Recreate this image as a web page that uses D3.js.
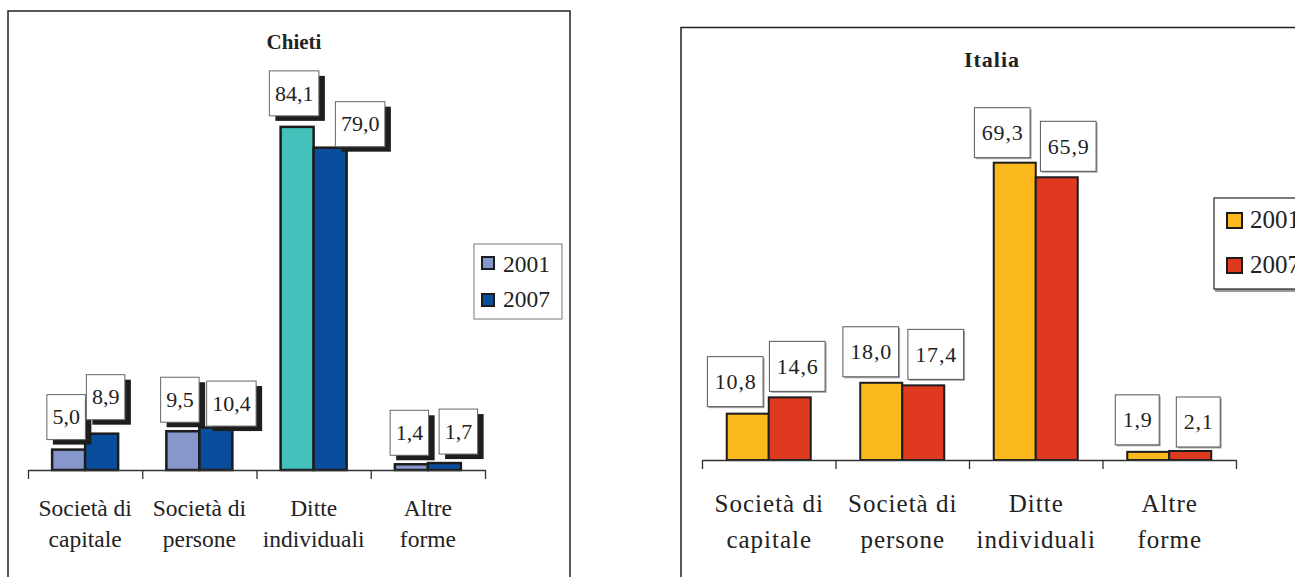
<!DOCTYPE html>
<html>
<head>
<meta charset="utf-8">
<script src="https://cdn.jsdelivr.net/npm/d3@7"></script>
<style>
  html, body { margin: 0; padding: 0; background: #fff; }
  svg { display: block; }
</style>
</head>
<body>
<svg id="chart" width="1295" height="577"></svg>
<script>
// Legal form of registered firms, % share, 2001 vs 2007
const categories = [
  ["Società di", "capitale"],
  ["Società di", "persone"],
  ["Ditte", "individuali"],
  ["Altre", "forme"]
];
const seriesNames = ["2001", "2007"];

const chieti2001 = [5.0, 9.5, 84.1, 1.4];
const chieti2007 = [8.9, 10.4, 79.0, 1.7];

const italia2001 = [10.8, 18.0, 69.3, 1.9];
const italia2007 = [14.6, 17.4, 65.9, 2.1];

// Hand-placed offsets of the value callouts: [dx from bar centre, gap above bar top]
const chietiNudge = [
  [[-2.5, 10], [4, 14]],
  [[-3, 9], [15.5, 1.5]],
  [[-3, 11], [30, 1]],
  [[-2, 9], [14, 9]]
];
const italiaNudge = [
  [[-12.5, 7], [7.5, 6]],
  [[-10.5, 6], [12.5, 6]],
  [[-12.5, 5], [11.5, 6]],
  [[-11, 7], [8, 4]]
];

const SERIF = "'Liberation Serif', 'Times New Roman', Times, 'DejaVu Serif', serif";
const fmt = v => d3.format(".1f")(v).replace(".", ",");
const svg = d3.select("#chart").style("font-family", SERIF);
svg.append("rect").attr("width", 1295).attr("height", 577).attr("fill", "#fff");

function txt(sel) {
  return sel.append("text").attr("font-family", SERIF).style("font-family", SERIF).attr("fill", "#222");
}

function drawPanel(p) {
  const g = svg.append("g");

  // frame (open at the bottom)
  g.append("path")
    .attr("d", `M${p.frame.x0},577V${p.frame.y0}H${p.frame.x1}V577`)
    .attr("fill", "none").attr("stroke", "#222").attr("stroke-width", 1.5);

  txt(g)
    .attr("x", p.title.x).attr("y", p.title.y)
    .attr("text-anchor", "middle")
    .style("font-weight", "bold")
    .style("font-size", p.title.size + "px")
    .style("letter-spacing", p.title.ls + "px")
    .text(p.title.text);

  const x0 = d3.scaleBand().domain(d3.range(categories.length)).range(p.xRange).padding(0);
  const gw = p.barW * seriesNames.length;
  const x1 = d3.scaleBand().domain(seriesNames)
    .range([(x0.bandwidth() - gw) / 2, (x0.bandwidth() + gw) / 2]);
  const y = d3.scaleLinear().domain(p.yDomain).range([p.baseY, p.topY]);

  const rows = [];
  categories.forEach((c, i) => {
    seriesNames.forEach((s, j) => {
      rows.push({ i, j, s, v: p.values[j][i], nudge: p.nudge[i][j] });
    });
  });

  // bars
  g.selectAll("rect.bar").data(rows).join("rect")
    .attr("class", "bar")
    .attr("x", d => x0(d.i) + x1(d.s))
    .attr("y", d => y(d.v))
    .attr("width", x1.bandwidth())
    .attr("height", d => y(0) - y(d.v))
    .attr("fill", d => p.color(d))
    .attr("stroke", "#1c1c1c")
    .attr("stroke-width", p.barStroke);

  // category axis: baseline with dividers at the band edges
  const edge = d3.scaleLinear().domain([0, categories.length]).range(p.xRange);
  const axis = g.append("g")
    .attr("transform", `translate(0,${p.baseY})`)
    .call(d3.axisBottom(edge).ticks(categories.length).tickSizeInner(9).tickSizeOuter(0).tickFormat(""));
  axis.select(".domain").attr("stroke", "#333").attr("stroke-width", 1.3);
  axis.selectAll(".tick line").attr("stroke", "#333").attr("stroke-width", 1.3);

  // category labels
  categories.forEach((lines, i) => {
    const cx = x0(i) + x0.bandwidth() / 2;
    lines.forEach((ln, k) => {
      txt(g)
        .attr("x", cx + p.cat.ls / 2).attr("y", p.cat.y[k])
        .attr("text-anchor", "middle")
        .style("font-size", p.cat.size + "px")
        .style("letter-spacing", p.cat.ls + "px")
        .text(ln);
    });
  });

  // value callouts
  rows.forEach(d => {
    const cx = x0(d.i) + x1(d.s) + x1.bandwidth() / 2 + d.nudge[0];
    const bottom = y(d.v) - d.nudge[1];
    const t = txt(g)
      .style("font-size", p.lab.size + "px")
      .style("letter-spacing", p.lab.ls + "px")
      .attr("text-anchor", "middle")
      .text(fmt(d.v));
    const tw = t.node().getComputedTextLength();
    const w = tw + 2 * p.lab.pad, h = p.lab.h;
    const bx = cx - w / 2, by = bottom - h;
    g.insert("rect", () => t.node())
      .attr("x", bx + p.lab.shadow[0]).attr("y", by + p.lab.shadow[1])
      .attr("width", w).attr("height", h)
      .attr("fill", p.lab.shadowColor);
    g.insert("rect", () => t.node())
      .attr("x", bx).attr("y", by).attr("width", w).attr("height", h)
      .attr("fill", "#fff").attr("stroke", p.lab.border).attr("stroke-width", 1);
    t.attr("x", cx + p.lab.ls / 2).attr("y", by + h / 2 + p.lab.size * 0.33);
  });

  // legend
  const L = p.legend;
  if (L.shadow) {
    g.append("rect").attr("x", L.x + 1).attr("y", L.y + L.h).attr("width", L.w).attr("height", 3).attr("fill", "#9a9a9a");
  }
  g.append("rect").attr("x", L.x).attr("y", L.y).attr("width", L.w).attr("height", L.h)
    .attr("fill", "#fff").attr("stroke", L.stroke).attr("stroke-width", L.sw);
  seriesNames.forEach((s, j) => {
    g.append("rect")
      .attr("x", L.sx).attr("y", L.sy[j]).attr("width", L.ss).attr("height", L.ss)
      .attr("fill", p.legendColor[j]).attr("stroke", "#1c1c1c").attr("stroke-width", 2);
    txt(g)
      .attr("x", L.tx).attr("y", L.ty[j])
      .style("font-size", L.size + "px")
      .text(s);
  });
}

drawPanel({
  frame: { x0: 8, y0: 11, x1: 570 },
  title: { text: "Chieti", x: 294, y: 49, size: 21, ls: 0 },
  xRange: [28, 485],
  barW: 33,
  baseY: 470,
  topY: 470 - 90 * 4.08,
  yDomain: [0, 90],
  values: [chieti2001, chieti2007],
  nudge: chietiNudge,
  color: d => d.j === 1 ? "#0a4d9c" : (d.i === 2 ? "#43c1ba" : "#8597cb"),
  legendColor: ["#8597cb", "#0a4d9c"],
  barStroke: 2.5,
  cat: { size: 23.5, ls: 0, y: [516, 547] },
  lab: { size: 22, ls: 0, pad: 5.5, h: 45, shadow: [6, 5], shadowColor: "#1e1e1e", border: "#666" },
  legend: { x: 474, y: 244, w: 88, h: 75, stroke: "#777", sw: 1, shadow: false,
            sx: 482, sy: [257, 294], ss: 12, tx: 503, ty: [272, 307], size: 23.5 }
});

drawPanel({
  frame: { x0: 681, y0: 27.5, x1: 1310 },
  title: { text: "Italia", x: 992, y: 67, size: 22, ls: 1 },
  xRange: [702, 1236],
  barW: 42,
  baseY: 460,
  topY: 460 - 80 * 4.29,
  yDomain: [0, 80],
  values: [italia2001, italia2007],
  nudge: italiaNudge,
  color: d => d.j === 1 ? "#df3a20" : "#fbb91d",
  legendColor: ["#fbb91d", "#df3a20"],
  barStroke: 2,
  cat: { size: 25, ls: 1, y: [512, 548] },
  lab: { size: 22, ls: 0.8, pad: 7, h: 50, shadow: [1.5, 1.5], shadowColor: "#a8a8a8", border: "#555" },
  legend: { x: 1214, y: 198, w: 200, h: 91, stroke: "#222", sw: 1.2, shadow: true,
            sx: 1227, sy: [213, 258], ss: 15, tx: 1250, ty: [228, 273], size: 25 }
});
</script>
</body>
</html>
